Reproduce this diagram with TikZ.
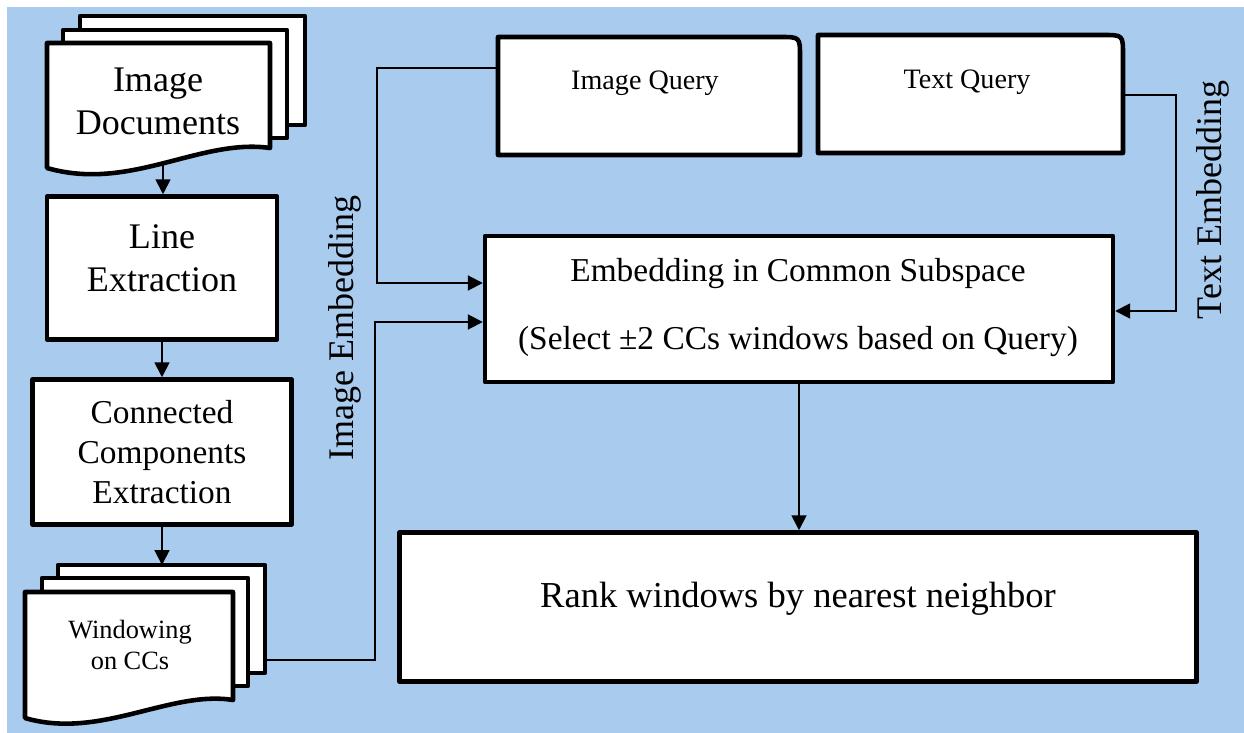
\documentclass[tikz,border=0pt]{standalone}
\usepackage{fontspec}
\setmainfont{Liberation Serif}
\usetikzlibrary{arrows.meta,calc}
\definecolor{bgblue}{RGB}{169,203,238}

\begin{document}
\begin{tikzpicture}[x=0.02cm,y=-0.02cm,
  box/.style={draw,line width=2.6pt,fill=white,line join=round},
  conn/.style={line width=1.1pt},
  arr/.style={conn,-{Triangle[length=8.5pt,width=8.5pt]}},
  lbl/.style={align=center,font=\fontsize{20.5}{24.5}\selectfont}]
% background
\useasboundingbox (0,0) rectangle (1244,733);
\fill[bgblue] (7,7) rectangle (1244,733);

% image documents (stack of pages)
\draw[box] (80,16) rectangle (305,125);
\draw[box] (63,30) rectangle (287,138);
\draw[box] (47,43) -- (270,43) -- (270,148) .. controls (200,138) and (130,192) .. (47,168) -- cycle;
\node[lbl] (docs) at (158,101) {Image\\Documents};
\coordinate (docsout) at (163,163);

% pipeline on the left
\node[box, minimum width=4.6cm, minimum height=2.86cm] (lineex) at (162,268) {};
\node[lbl] (lineextxt) at (162,258) {Line\\Extraction};
\node[box, align=center, font=\fontsize{19}{22.7}\selectfont, minimum width=5.18cm, minimum height=2.9cm] (ccex) at (162,452) {Connected\\Components\\Extraction};

% windowing (stack of pages)
\draw[box] (58,565) rectangle (265,673);
\draw[box] (42,578) rectangle (248,686);
\draw[box] (25,592) -- (233,592) -- (233,700) .. controls (170,690) and (100,740) .. (25,718) -- cycle;
\node[align=center, font=\fontsize{15}{17.6}\selectfont] (win) at (130,645) {Windowing\\on CCs};
\coordinate (wintop) at (162,565);
\coordinate (winout) at (265,660);

% queries
\draw[box] (498,155) -- (498,37) -- (780,37) .. controls (800,37) .. (800,57) -- (800,155) -- cycle;
\node[font=\fontsize{16}{19}\selectfont] (iq) at (645,83) {Image Query};
\coordinate (iqout) at (498,68);
\draw[box] (818,153) -- (818,35) -- (1103,35) .. controls (1123,35) .. (1123,55) -- (1123,153) -- cycle;
\node[font=\fontsize{16}{19}\selectfont] (tq) at (967,82) {Text Query};
\coordinate (tqout) at (1123,95);

% common subspace and ranking
\node[box, minimum width=12.56cm, minimum height=2.92cm] (embed) at (799,309) {};
\node[font=\fontsize{19}{23}\selectfont] (embtop) at (798,274) {Embedding in Common Subspace};
\node[font=\fontsize{19}{23}\selectfont] (embbot) at (798,342) {(Select ±2 CCs windows based on Query)};
\node[box, minimum width=15.94cm, minimum height=2.98cm] (rank) at (798,607) {};
\node[font=\fontsize{20.8}{25}\selectfont] (ranktxt) at (798,599) {Rank windows by nearest neighbor};

% side labels
\node[lbl, rotate=90] (imgemb) at (345,328) {Image Embedding};
\node[lbl, rotate=90] (txtemb) at (1213,200) {Text Embedding};

% connectors
\draw[arr] (docsout) -- (docsout |- lineex.north);
\draw[arr] (lineex) -- (ccex);
\draw[arr] (ccex.south) -- (wintop);
\draw[arr] (winout) -- ++(110,0) |- ($(embed.west)+(0,13)$);
\draw[arr] (iqout) -- ++(-121,0) |- ($(embed.west)+(0,-26)$);
\draw[arr] (tqout) -- ++(53,0) |- ($(embed.east)+(0,2)$);
\draw[arr] (embed.south) -- (embed.south |- rank.north);
\end{tikzpicture}
\end{document}
